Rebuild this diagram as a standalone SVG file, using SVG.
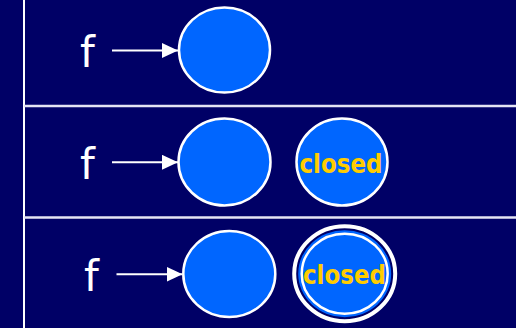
<svg xmlns="http://www.w3.org/2000/svg" width="516" height="328" viewBox="0 0 516 328">
<defs>
<style>
.sep{stroke:#E4E4F4;stroke-width:2.5;fill:none}
.vsep{stroke:#FFFFFF;stroke-width:2;fill:none}
.state{fill:#0066FF;stroke:#FFFFFF;stroke-width:2.5}
.lbl{font-family:"DejaVu Sans",Verdana,sans-serif;font-size:42px;fill:#FFFFFF}
.closed{font-family:"DejaVu Sans Condensed","DejaVu Sans",sans-serif;font-size:26px;font-weight:bold;fill:#FFCC00;text-anchor:middle}
.conn{stroke:#FFFFFF;stroke-width:2;fill:none}
</style>
<marker id="ah" markerUnits="userSpaceOnUse" markerWidth="17" markerHeight="15" refX="16" refY="7.5" orient="auto">
<path d="M0,0 L16,7.5 L0,15 Z" fill="#FFFFFF"/>
</marker>
</defs>
<rect x="0" y="0" width="516" height="328" fill="#000066"/>
<line class="vsep" x1="24" y1="0" x2="24" y2="328"/>
<line class="sep" x1="24" y1="106" x2="516" y2="106"/>
<line class="sep" x1="24" y1="217.5" x2="516" y2="217.5"/>

<g id="f1"><text class="lbl" x="80" y="67">f</text></g>
<g id="s1"><ellipse class="state" cx="224.5" cy="50" rx="45.5" ry="42.5"/></g>

<g id="f2"><text class="lbl" x="80" y="179">f</text></g>
<g id="s2"><ellipse class="state" cx="224.5" cy="162" rx="46" ry="43.5"/></g>
<g id="c2"><ellipse class="state" cx="342" cy="162" rx="45.5" ry="43.5"/><text class="closed" x="341" y="172.5" textLength="83" lengthAdjust="spacingAndGlyphs">closed</text></g>

<g id="f3"><text class="lbl" x="84" y="291">f</text></g>
<g id="s3"><ellipse class="state" cx="229.3" cy="274" rx="46" ry="43"/></g>
<g id="c3">
<ellipse cx="344.7" cy="273.7" rx="50.5" ry="47.5" fill="#000066" stroke="#FFFFFF" stroke-width="4"/>
<ellipse cx="344.7" cy="273.7" rx="46.5" ry="43.5" fill="#0066FF"/>
<ellipse cx="344.7" cy="273.7" rx="43" ry="40" fill="none" stroke="#FFFFFF" stroke-width="2.5"/>
<text class="closed" x="344.5" y="284" textLength="83" lengthAdjust="spacingAndGlyphs">closed</text>
</g>

<g id="connectors">
<line class="conn" x1="112" y1="50.5" x2="178" y2="50.5" marker-end="url(#ah)"/>
<line class="conn" x1="112" y1="162.3" x2="178" y2="162.3" marker-end="url(#ah)"/>
<line class="conn" x1="116.5" y1="274.3" x2="182.5" y2="274.3" marker-end="url(#ah)"/>
</g>
</svg>
